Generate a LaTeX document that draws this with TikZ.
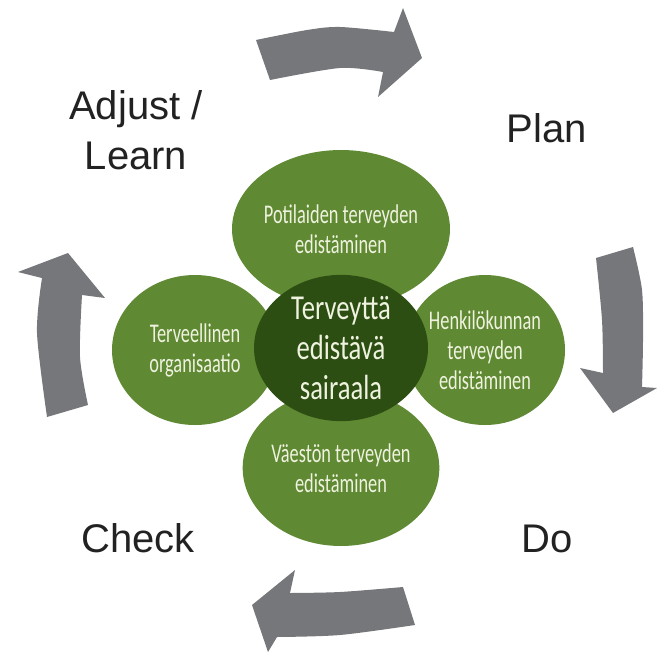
\documentclass[tikz,border=0pt]{standalone}
\usepackage{fontspec}
\setmainfont{Liberation Sans}
\newfontfamily\circfont[FakeStretch=0.68]{Carlito}
\newfontfamily\corefont[FakeStretch=0.76]{Carlito}
\usetikzlibrary{shapes.geometric}
\definecolor{arrowgray}{RGB}{118,119,123}
\definecolor{leafgreen}{RGB}{96,137,51}
\definecolor{coregreen}{RGB}{44,78,18}
\definecolor{leaftext}{RGB}{238,242,222}
\definecolor{labeltext}{RGB}{34,34,34}
\tikzset{
  leaf/.style={ellipse, fill=leafgreen, inner sep=0pt, align=center,
    text=leaftext, font=\circfont\fontsize{27}{30}\selectfont},
  core/.style={ellipse, fill=coregreen, inner sep=0pt, align=center,
    text=leaftext, font=\corefont\fontsize{35}{40}\selectfont},
  phase/.style={text=labeltext, align=center, inner sep=0pt,
    font=\fontsize{40}{50}\selectfont},
  cyclearrow/.style={fill=arrowgray}
}
\begin{document}
\begin{tikzpicture}[x=1pt,y=-1pt]
\useasboundingbox (0,0) rectangle (658,653);
% cycle arrows
\fill[cyclearrow] plot[smooth] coordinates {(256,40) (307,30) (340,27) (394,32)}
  -- (403,8) -- (422,58) -- (378,97) -- (383,72)
  -- plot[smooth] coordinates {(383,72) (340,68) (270,80)} -- cycle;
\fill[cyclearrow] (596,258) -- (633,247)
  -- plot[smooth] coordinates {(633,247) (642,290) (643,340) (642,387)}
  -- (657,388) -- (613,413) -- (580,368) -- (603,373)
  -- plot[smooth] coordinates {(603,373) (602,320) (596,258)} -- cycle;
\fill[cyclearrow] (403,587) -- (415,625)
  -- plot[smooth] coordinates {(415,625) (340,635) (277,637)}
  -- (268,652) -- (252,605) -- (295,570) -- (290,593)
  -- plot[smooth] coordinates {(290,593) (340,592) (403,587)} -- cycle;
\fill[cyclearrow] (47,417) -- (88,405)
  -- plot[smooth] coordinates {(88,405) (80,357) (82,295)}
  -- (105,298) -- (68,253) -- (18,272) -- (42,278)
  -- plot[smooth] coordinates {(42,278) (37,333) (47,417)} -- cycle;
% phase labels
\node[phase] (adjust) at (136,130) {Adjust /\\Learn};
\node[phase, anchor=base] (plan) at (547,142) {Plan};
\node[phase, anchor=base] (check) at (138,552) {Check};
\node[phase, anchor=base] (do) at (547,552) {Do};
% leaves
\node[leaf, minimum width=170pt, minimum height=158pt] (patients) at (341,229)
  {Potilaiden terveyden\\edistäminen};
\node[leaf, minimum width=170pt, minimum height=156pt] (population) at (341,468)
  {Väestön terveyden\\edistäminen};
\node[leaf, minimum width=166pt, minimum height=150pt] (organisation) at (195,350)
  {Terveellinen\\organisaatio};
\node[leaf, minimum width=160pt, minimum height=150pt] (staff) at (485,350)
  {Henkilökunnan\\terveyden\\edistäminen};
\node[core, minimum width=174pt, minimum height=146pt] (hospital) at (341,348)
  {Terveyttä\\edistävä\\sairaala};
\end{tikzpicture}
\end{document}
